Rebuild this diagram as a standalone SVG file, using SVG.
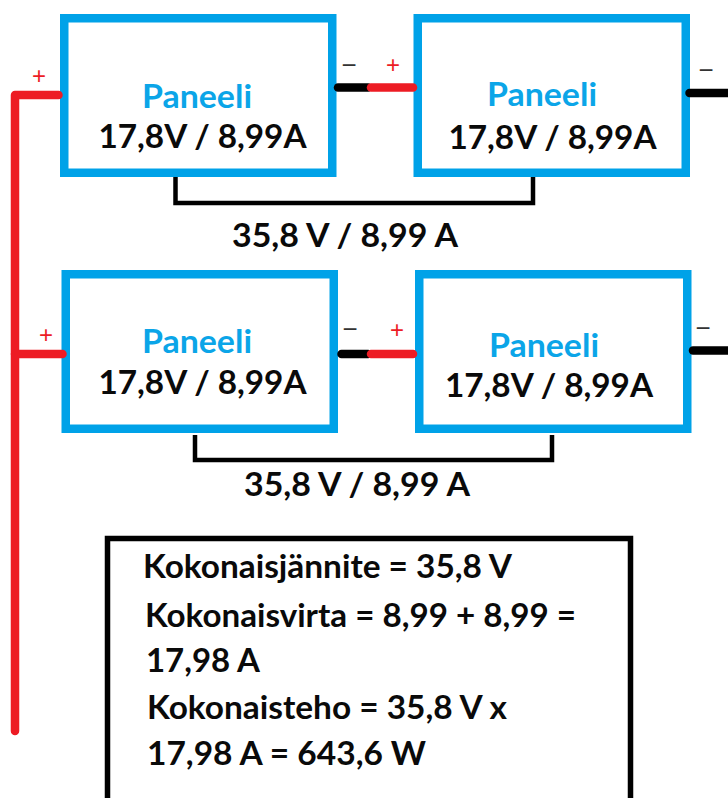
<svg xmlns="http://www.w3.org/2000/svg" width="728" height="798" viewBox="0 0 728 798">
<style>
text{font-family:"Lato","Open Sans","Liberation Sans",sans-serif;font-weight:700;fill:#0a0a0a}
.p{fill:none;stroke:#00A2E8;stroke-width:8.5}
.n{fill:#0BA5E8;font-size:33px}
.v{font-size:32px}
.t{font-size:32px}
.r,.b{fill:none;stroke-linecap:round;stroke-linejoin:round;stroke-width:8.5}
.r{stroke:#ED1C24}.b{stroke:#000}
.k{fill:none;stroke:#000;stroke-width:4.5;stroke-linejoin:miter}
.plus,.minus{font-family:"Liberation Sans",sans-serif;font-weight:400;text-anchor:middle}
.plus{fill:#ED1C24;font-size:24px}
.minus{fill:#333;font-size:26px}
</style>
<g id="panel-1">
<rect class="p" x="64.250" y="18.250" width="268" height="154.500"/>
<text class="n" x="142" y="107.500" textLength="110" lengthAdjust="spacingAndGlyphs">Paneeli</text>
<text class="v" x="98.500" y="148" textLength="208" lengthAdjust="spacingAndGlyphs">17,8V / 8,99A</text>
<text class="plus" x="39" y="84">+</text>
<text class="minus" x="349" y="74">−</text>
</g>
<g id="panel-2">
<rect class="p" x="417.750" y="18.250" width="268" height="154.500"/>
<text class="n" x="487" y="105.500" textLength="110" lengthAdjust="spacingAndGlyphs">Paneeli</text>
<text class="v" x="448.500" y="149" textLength="208" lengthAdjust="spacingAndGlyphs">17,8V / 8,99A</text>
<text class="plus" x="393" y="73">+</text>
<text class="minus" x="706" y="79">−</text>
</g>
<g id="panel-3">
<rect class="p" x="65.750" y="274.250" width="268" height="154.500"/>
<text class="n" x="142" y="353" textLength="110" lengthAdjust="spacingAndGlyphs">Paneeli</text>
<text class="v" x="98.500" y="393.500" textLength="208" lengthAdjust="spacingAndGlyphs">17,8V / 8,99A</text>
<text class="plus" x="46" y="343">+</text>
<text class="minus" x="350" y="338">−</text>
</g>
<g id="panel-4">
<rect class="p" x="419.250" y="274.250" width="268" height="154.500"/>
<text class="n" x="489" y="356.500" textLength="110" lengthAdjust="spacingAndGlyphs">Paneeli</text>
<text class="v" x="445" y="397" textLength="208" lengthAdjust="spacingAndGlyphs">17,8V / 8,99A</text>
<text class="plus" x="397" y="338">+</text>
<text class="minus" x="703" y="337">−</text>
</g>
<g id="connectors">
<path class="r" d="M15 731V95H58.500"/>
<path class="r" d="M15 354H62.500"/>
<path class="b" d="M338 87.500H368"/>
<path class="r" d="M371 87.500H413"/>
<path class="b" d="M689.500 93H732"/>
<path class="b" d="M341.500 354H368"/>
<path class="r" d="M371 354H413"/>
<path class="b" d="M693 350.500H732"/>
<path class="k" d="M175.500 177V203H533V177"/>
<path class="k" d="M195 435V460H552V435"/>
</g>
<g id="label-row-1"><text class="v" x="232" y="246.500" textLength="226" lengthAdjust="spacingAndGlyphs">35,8 V / 8,99 A</text></g>
<g id="label-row-2"><text class="v" x="244" y="495.500" textLength="226" lengthAdjust="spacingAndGlyphs">35,8 V / 8,99 A</text></g>
<g id="summary">
<path fill="none" stroke="#000" stroke-width="5.500" d="M107.500 810V538.500H630.500V810"/>
<text class="t" x="143" y="578" textLength="369" lengthAdjust="spacingAndGlyphs">Kokonaisjännite = 35,8 V</text>
<text class="t" x="145" y="626.500" textLength="431" lengthAdjust="spacingAndGlyphs">Kokonaisvirta = 8,99 + 8,99 =</text>
<text class="t" x="146" y="672" textLength="114" lengthAdjust="spacingAndGlyphs">17,98 A</text>
<text class="t" x="147" y="718.500" textLength="360" lengthAdjust="spacingAndGlyphs">Kokonaisteho = 35,8 V x</text>
<text class="t" x="147" y="764.500" textLength="279" lengthAdjust="spacingAndGlyphs">17,98 A = 643,6 W</text>
</g>
</svg>
